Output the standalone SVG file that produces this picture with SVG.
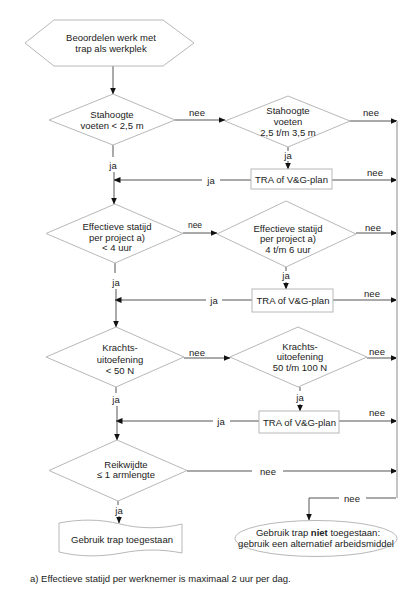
<svg xmlns="http://www.w3.org/2000/svg" width="413" height="600" viewBox="0 0 413 600">
<defs>
<marker id="ah" markerWidth="7" markerHeight="6" refX="6.5" refY="3" orient="auto" markerUnits="userSpaceOnUse">
<path d="M0,0 L7,3 L0,6 z" fill="#111"/>
</marker>
<style>
text{font-family:"Liberation Sans",Arial,sans-serif;font-size:9.5px;fill:#222;text-anchor:middle}
.s{fill:#fff;stroke:#b8b8b8;stroke-width:1}
.c{fill:none;stroke:#555;stroke-width:1}
.a{fill:none;stroke:#555;stroke-width:1;marker-end:url(#ah)}
.v{fill:none;stroke:#c4c4c4;stroke-width:2}
.sm{font-size:8.5px}
</style>
</defs>
<rect width="413" height="600" fill="#fff"/>
<g id="connectors">
<path class="a" d="M113,66 V94"/>
<path class="a" d="M175,120 H225"/>
<path class="a" d="M350,121 H397"/>
<path class="c" d="M288,147 V151"/><path class="a" d="M288,161 V169"/>
<path class="c" d="M251,180 H220"/><path class="a" d="M202,180 H114"/>
<path class="a" d="M332,180 H397"/>
<path class="c" d="M113,145 V157"/><path class="a" d="M114,172 V204"/>
<path class="a" d="M183,233 H217"/>
<path class="a" d="M356,233 H397"/>
<path class="c" d="M286,267 V271"/><path class="a" d="M286,282 V289"/>
<path class="c" d="M252,300 H222"/><path class="a" d="M206,300 H115"/>
<path class="a" d="M333,300 H397"/>
<path class="c" d="M115,263 V273"/><path class="a" d="M116,289 V327"/>
<path class="a" d="M184,358 H230"/>
<path class="a" d="M367,358 H397"/>
<path class="c" d="M300,387 V391"/><path class="a" d="M300,404 V411"/>
<path class="c" d="M259,421 H230"/><path class="a" d="M213,421 H116"/>
<path class="a" d="M339,421 H397"/>
<path class="c" d="M116,387 V393"/><path class="a" d="M117,406 V440"/>
<path class="c" d="M187,471 H252"/><path class="a" d="M283,471 H397"/>
<path class="v" d="M397,121 V498"/>
<path class="c" d="M396,498 H366"/><path class="a" d="M339,498 H309 V520"/>
<path class="c" d="M118,501 V505"/><path class="a" d="M119,516 V523"/>
<text x="197" y="116">nee</text>
<text x="371" y="116">nee</text>
<text x="288" y="159">ja</text>
<text x="211" y="183.5">ja</text>
<text x="375" y="176">nee</text>
<text x="113" y="169">ja</text>
<text class="sm" x="195" y="228">nee</text>
<text x="373" y="231">nee</text>
<text x="286" y="279">ja</text>
<text x="214" y="303.5">ja</text>
<text x="372" y="297">nee</text>
<text x="116" y="285.5">ja</text>
<text x="197" y="355.5">nee</text>
<text x="377" y="355">nee</text>
<text x="300" y="400.5">ja</text>
<text x="221" y="424.5">ja</text>
<text x="377" y="416">nee</text>
<text x="116" y="402.5">ja</text>
<text x="268" y="474.5">nee</text>
<text x="352" y="501.5">nee</text>
<text x="119" y="513.5">ja</text>
</g>
<g id="start">
<polygon class="s" points="25,43 54,20 163,20 194,43 163,66 54,66"/>
<text x="111" y="40.5">Beoordelen werk met</text>
<text x="111" y="51.5">trap als werkplek</text>
</g>
<g id="d1">
<polygon class="s" points="49,120 113,94 175,120 113,145"/>
<text x="112" y="117.5">Stahoogte</text>
<text x="112" y="128.5">voeten &lt; 2,5 m</text>
</g>
<g id="d2">
<polygon class="s" points="225,121 288,96 350,121 288,147"/>
<text x="288" y="113.5">Stahoogte</text>
<text x="288" y="124.5">voeten</text>
<text x="288" y="135.5">2,5 t/m 3,5 m</text>
</g>
<g id="tra1">
<rect class="s" x="251" y="169" width="81" height="20"/>
<text x="291.5" y="182.5">TRA of V&amp;G-plan</text>
</g>
<g id="d3">
<polygon class="s" points="46,233.5 115,204 183,233.5 115,263"/>
<text x="117" y="229.5">Effectieve statijd</text>
<text x="117" y="240.5">per project a)</text>
<text x="117" y="250.5">&lt; 4 uur</text>
</g>
<g id="d4">
<polygon class="s" points="217,234 286,201 356,234 286,267"/>
<text x="288" y="231.5">Effectieve statijd</text>
<text x="288" y="241.5">per project a)</text>
<text x="288" y="252.5">4 t/m 6 uur</text>
</g>
<g id="tra2">
<rect class="s" x="252" y="289" width="81" height="23"/>
<text x="293" y="303.5">TRA of V&amp;G-plan</text>
</g>
<g id="d5">
<polygon class="s" points="46,357 116,327 184,357 116,387"/>
<text x="120" y="350.5">Krachts-</text>
<text x="120" y="362.5">uitoefening</text>
<text x="120" y="373.5">&lt; 50 N</text>
</g>
<g id="d6">
<polygon class="s" points="230,357 298,327 367,357 298,387"/>
<text x="300" y="349.5">Krachts-</text>
<text x="300" y="360">uitoefening</text>
<text x="300" y="370.5">50 t/m 100 N</text>
</g>
<g id="tra3">
<rect class="s" x="259" y="411" width="80" height="22"/>
<text x="299.5" y="426">TRA of V&amp;G-plan</text>
</g>
<g id="d7">
<polygon class="s" points="49,470.5 117,440 187,470.5 118,501"/>
<text x="126" y="467.5">Reikwijdte</text>
<text x="126" y="478">≤ 1 armlengte</text>
</g>
<g id="ok">
<path class="s" d="M59,523 C80,519 100,519 120,524 C140,529 162,529 182,524 L182,553 C162,549 142,549 122,553 C100,557 80,557 59,552 Z"/>
<text x="122" y="542.5">Gebruik trap toegestaan</text>
</g>
<g id="notok">
<ellipse class="s" cx="316" cy="538.5" rx="81" ry="18"/>
<text x="318" y="536">Gebruik trap <tspan font-weight="bold">niet</tspan> toegestaan:</text>
<text x="316" y="547">gebruik een alternatief arbeidsmiddel</text>
</g>
<g id="footnote">
<text x="30" y="581.5" style="text-anchor:start">a) Effectieve statijd per werknemer is maximaal 2 uur per dag.</text>
</g>
</svg>
